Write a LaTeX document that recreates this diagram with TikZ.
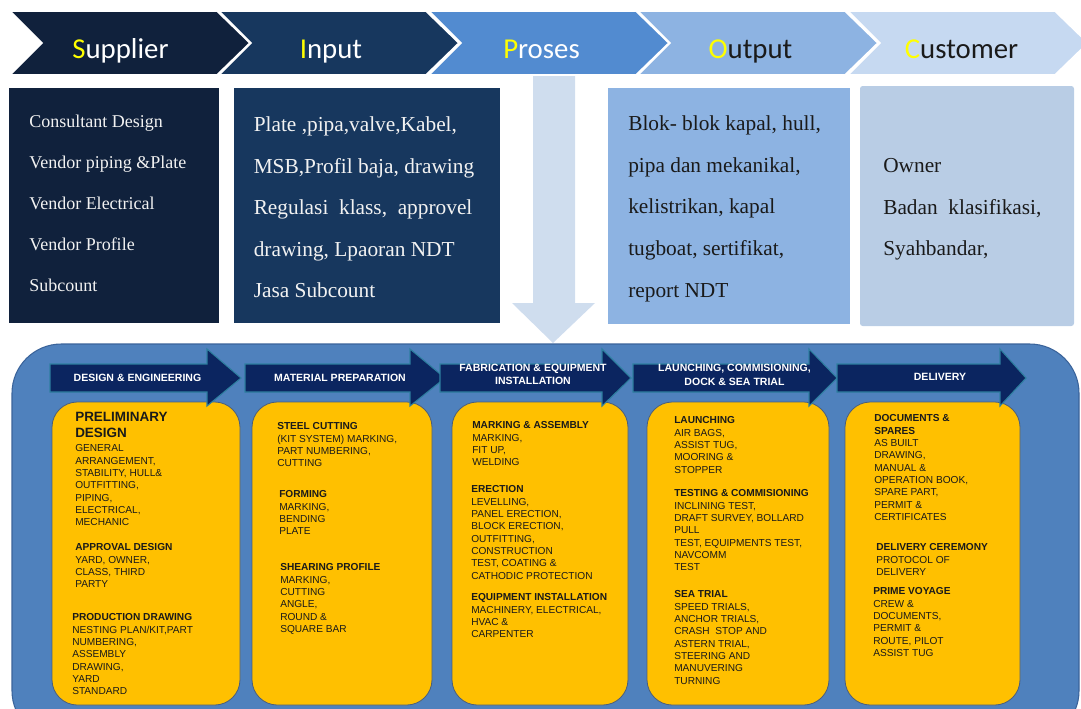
\documentclass[tikz,border=0pt]{standalone}
\usepackage{fontspec}
\newfontfamily\carl{Carlito}
\newfontfamily\tnr{Liberation Serif}
\newfontfamily\ari{Liberation Sans}
\definecolor{csup}{HTML}{10213C}
\definecolor{cinp}{HTML}{17375E}
\definecolor{cpro}{HTML}{528BD0}
\definecolor{cout}{HTML}{8DB3E2}
\definecolor{ccus}{HTML}{C6D9F1}
\definecolor{ccusbox}{HTML}{B9CDE5}
\definecolor{cdown}{HTML}{CFDDEE}
\definecolor{cpanel}{HTML}{4F81BD}
\definecolor{cpanelb}{HTML}{3A639A}
\definecolor{cyel}{HTML}{FFFF00}
\definecolor{cybox}{HTML}{FFC000}
\definecolor{cyboxb}{HTML}{4A5E7C}
\definecolor{cnavy}{HTML}{0B2560}
\definecolor{cteal}{HTML}{2E7FA0}
\definecolor{cdark}{HTML}{1A1A1A}
\tikzset{
  chev/.style={draw=white, line width=1.3pt},
  chevtxt/.style={font=\carl\fontsize{21.6}{26}\selectfont, anchor=base, inner sep=0},
  supt/.style={font=\tnr\fontsize{13.5}{16}\selectfont, text=white!95!black, anchor=base west, inner sep=0},
  boxt/.style={font=\tnr\fontsize{16}{19}\selectfont, anchor=base west, inner sep=0},
  ybox/.style={fill=cybox, draw=cyboxb, line width=0.6pt, rounded corners=19pt},
  arr/.style={fill=cnavy, draw=cteal, line width=0.8pt},
  arrt/.style={font=\ari\bfseries\fontsize{7.9}{10.1}\selectfont, text=white, align=center, inner sep=0},
  sec/.style={font=\ari\fontsize{7.6}{9.26}\selectfont, align=left, anchor=north west, inner sep=0, text=cdark},
}
\begin{document}
\begin{tikzpicture}[x=0.75pt,y=-0.75pt]
\useasboundingbox (0,0) rectangle (1081,708);
\clip (0,0) rectangle (1081,708);
% down arrow
\fill[cdown] (533,70) -- (575,70) -- (575,303) -- (595,303) -- (553,343) -- (512,303) -- (533,303) -- cycle;
% chevrons
\foreach \x/\c in {10/csup,219/cinp,429/cpro,638/cout,848/ccus}{
  \filldraw[chev, fill=\c] (\x,11) -- (\x+207,11) -- (\x+240,43) -- (\x+207,75) -- (\x,75) -- (\x+32,43) -- cycle;
}
\node[chevtxt, text=white] (tS) at (120.5,58) {{\color{cyel}S}upplier};
\node[chevtxt, text=white] (tI) at (331,58) {{\color{cyel}I}nput};
\node[chevtxt, text=white] (tP) at (541.5,58) {{\color{cyel}P}roses};
\node[chevtxt, text=cdark] (tO) at (750.5,58) {{\color{cyel}O}utput};
\node[chevtxt, text=cdark] (tC) at (961.5,58) {{\color{cyel}C}ustomer};
% top boxes
\fill[csup] (9,88) rectangle (219,323);
\fill[cinp] (234,88) rectangle (500,323);
\fill[cout] (608,88) rectangle (850,324);
\fill[ccusbox, rounded corners=2pt] (860,86) rectangle (1074,326);
\node[supt] (s1) at (29,127.7) {Consultant Design};
\node[supt] (s2) at (29,168.7) {Vendor piping \&Plate};
\node[supt] (s3) at (29,209.7) {Vendor Electrical};
\node[supt] (s4) at (29,250.7) {Vendor Profile};
\node[supt] (s5) at (29,291.7) {Subcount};
\node[boxt, text=white!95!black] (i1) at (253.5,131.7) {Plate ,pipa,valve,Kabel,};
\node[boxt, text=white!95!black] (i2) at (253.5,173.2) {MSB,Profil baja, drawing};
\node[boxt, text=white!95!black] (i3) at (253.5,214.7) {Regulasi\ \ klass,\ \ approvel};
\node[boxt, text=white!95!black] (i4) at (253.5,256.2) {drawing, Lpaoran NDT};
\node[boxt, text=white!95!black] (i5) at (253.5,297.7) {Jasa Subcount};
\node[boxt, text=cdark] (o1) at (628,130.7) {Blok- blok kapal, hull,};
\node[boxt, text=cdark] (o2) at (628,172.3) {pipa dan mekanikal,};
\node[boxt, text=cdark] (o3) at (628,213.9) {kelistrikan, kapal};
\node[boxt, text=cdark] (o4) at (628,255.4) {tugboat, sertifikat,};
\node[boxt, text=cdark] (o5) at (628,297) {report NDT};
\node[boxt, text=cdark] (c1) at (883,172.3) {Owner};
\node[boxt, text=cdark] (c2) at (883,214.5) {Badan\ \ klasifikasi,};
\node[boxt, text=cdark] (c3) at (883,255) {Syahbandar,};
% panel
\filldraw[fill=cpanel, draw=cpanelb, line width=0.8pt, rounded corners=37pt] (12,344) rectangle (1079,740);
% yellow boxes
\draw[ybox] (52,402) rectangle (240,705);
\draw[ybox] (252,402) rectangle (432,705);
\draw[ybox] (452,402) rectangle (628,705);
\draw[ybox] (647,402) rectangle (829,705);
\draw[ybox] (845,402) rectangle (1020,705);
% process arrows
\foreach \l/\b/\t in {50/207/241, 245/410/445, 440/602/631, 633/809/837, 837/1000/1026}{
  \filldraw[arr] (\l,364) -- (\b,364) -- (\b,349) -- (\t,378) -- (\b,406) -- (\b,392) -- (\l,392) -- cycle;
}
\node[arrt] (a1) at (137.5,378) {DESIGN \& ENGINEERING};
\node[arrt] (a2) at (340,378) {MATERIAL PREPARATION};
\node[arrt] (a3) at (533,374.5) {FABRICATION \& EQUIPMENT\\INSTALLATION};
\node[arrt] (a4) at (734.5,375) {LAUNCHING, COMMISIONING,\\DOCK \& SEA TRIAL};
\node[arrt] (a5) at (940,377) {DELIVERY};
% box 1
\node[sec, font=\ari\bfseries\fontsize{10.1}{12}\selectfont] (p1) at (75,412.2) {PRELIMINARY\\DESIGN};
\node[sec] (p2) at (75,444.4) {GENERAL\\ARRANGEMENT,\\STABILITY, HULL\&\\OUTFITTING,\\PIPING,\\ELECTRICAL,\\MECHANIC};
\node[sec] (p3) at (75,543.4) {\textbf{APPROVAL DESIGN}\\YARD, OWNER,\\CLASS, THIRD\\PARTY};
\node[sec] (p4) at (72,613.4) {\textbf{PRODUCTION DRAWING}\\NESTING PLAN/KIT,PART\\NUMBERING,\\ASSEMBLY\\DRAWING,\\YARD\\STANDARD};
% box 2
\node[sec] (m1) at (277,422.4) {\textbf{STEEL CUTTING}\\(KIT SYSTEM) MARKING,\\PART NUMBERING,\\CUTTING};
\node[sec] (m2) at (279,490.4) {\textbf{FORMING}\\MARKING,\\BENDING\\PLATE};
\node[sec] (m3) at (280,563.4) {\textbf{SHEARING PROFILE}\\MARKING,\\CUTTING\\ANGLE,\\ROUND \&\\SQUARE BAR};
% box 3
\node[sec] (f1) at (472,421.4) {\textbf{MARKING \& ASSEMBLY}\\MARKING,\\FIT UP,\\WELDING};
\node[sec] (f2) at (471,485.4) {\textbf{ERECTION}\\LEVELLING,\\PANEL ERECTION,\\BLOCK ERECTION,\\OUTFITTING,\\CONSTRUCTION\\TEST, COATING \&\\CATHODIC PROTECTION};
\node[sec] (f3) at (471,593.4) {\textbf{EQUIPMENT INSTALLATION}\\MACHINERY, ELECTRICAL,\\HVAC \&\\CARPENTER};
% box 4
\node[sec] (l1) at (674,416.4) {\textbf{LAUNCHING}\\AIR BAGS,\\ASSIST TUG,\\MOORING \&\\STOPPER};
\node[sec] (l2) at (674,489.4) {\textbf{TESTING \& COMMISIONING}\\INCLINING TEST,\\DRAFT SURVEY, BOLLARD\\PULL\\TEST, EQUIPMENTS TEST,\\NAVCOMM\\TEST};
\node[sec] (l3) at (674,590.4) {\textbf{SEA TRIAL}\\SPEED TRIALS,\\ANCHOR TRIALS,\\CRASH\ \ STOP AND\\ASTERN TRIAL,\\STEERING AND\\MANUVERING\\TURNING};
% box 5
\node[sec] (d1) at (874,414.4) {\textbf{DOCUMENTS \&}\\\textbf{SPARES}\\AS BUILT\\DRAWING,\\MANUAL \&\\OPERATION BOOK,\\SPARE PART,\\PERMIT \&\\CERTIFICATES};
\node[sec] (d2) at (876,543.4) {\textbf{DELIVERY CEREMONY}\\PROTOCOL OF\\DELIVERY};
\node[sec] (d3) at (873,587.4) {\textbf{PRIME VOYAGE}\\CREW \&\\DOCUMENTS,\\PERMIT \&\\ROUTE, PILOT\\ASSIST TUG};
\end{tikzpicture}
\end{document}
